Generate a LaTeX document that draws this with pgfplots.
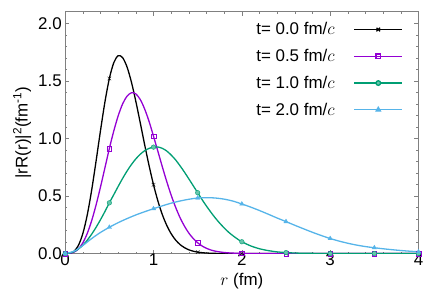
\documentclass[border=0pt]{standalone}
\usepackage{fontspec}
\setmainfont{Liberation Sans}
\usepackage{pgfplots}
\pgfplotsset{compat=1.18}
\definecolor{cpurple}{HTML}{9400D3}
\definecolor{cgreen}{HTML}{009E73}
\definecolor{cblue}{HTML}{56B4E9}
\newcommand{\fs}{\fontsize{17}{20}\selectfont}
\begin{document}
\begin{tikzpicture}
\useasboundingbox (-65.2bp,-45.5bp) rectangle (370.8bp,253.5bp);
\begin{axis}[
  at={(0,0)}, anchor=south west,
  scale only axis, width=353.3bp, height=241.8bp,
  xmin=0, xmax=4, ymin=0, ymax=2.1,
  xtick={0,1,2,3,4}, ytick={0,0.5,1,1.5,2},
  minor x tick num=4, minor y tick num=4,
  major tick length=4bp, minor tick length=2bp,
  tick align=inside,
  axis line style={gray}, every tick/.style={gray},
  /pgf/number format/assume math mode=true,
  yticklabel style={/pgf/number format/.cd, fixed, fixed zerofill, precision=1},
  xticklabel style={yshift=3bp},
  tick label style={font=\fs},
  label style={font=\fs},
  xlabel={$r$ (fm)},
  ylabel={|rR(r)|\textsuperscript{2}(fm\textsuperscript{-1})},
  legend cell align=right,
  legend plot pos=right,
  legend style={draw=none, fill=none, font=\fs, at={(0.965,0.972)}, anchor=north east, row sep=9bp,
    /tikz/every odd column/.append style={column sep=17bp}},
  legend image code/.code={\draw[#1,mark repeat=2,mark phase=2] plot coordinates {(0bp,0bp) (24bp,0bp) (48bp,0bp)};},
]
% black t=0
\addplot[black, line width=1.3bp, smooth, forget plot] coordinates {
(0,0) (0.05,0.002) (0.1,0.019) (0.15,0.071) (0.2,0.174) (0.25,0.336) (0.3,0.552) (0.35,0.805)
(0.4,1.069) (0.45,1.317) (0.5,1.52) (0.55,1.657) (0.6,1.718) (0.65,1.701) (0.7,1.620) (0.75,1.488)
(0.8,1.320) (0.85,1.134) (0.9,0.943) (0.95,0.762) (1.0,0.597) (1.05,0.455) (1.1,0.337) (1.15,0.244)
(1.2,0.171) (1.25,0.117) (1.3,0.078) (1.35,0.051) (1.4,0.032) (1.45,0.020) (1.5,0.012) (1.55,0.007)
(1.6,0.004) (1.7,0.001) (1.8,0) (2,0) (3,0) (4,0)};
\addplot[black, only marks, mark=x, mark size=2.5bp, forget plot] coordinates {
(0,0) (0.5,1.52) (1,0.597) (1.5,0.012) (2,0) (2.5,0) (3,0) (3.5,0) (4,0)};
% purple t=0.5
\addplot[cpurple, line width=1.3bp, smooth, forget plot] coordinates {
(0,0) (0.05,0.0014) (0.1,0.012) (0.15,0.040) (0.2,0.093) (0.25,0.175) (0.3,0.286) (0.35,0.423)
(0.4,0.579) (0.45,0.745) (0.5,0.912) (0.55,1.064) (0.6,1.196) (0.65,1.299) (0.7,1.366) (0.75,1.396)
(0.8,1.386) (0.85,1.337) (0.9,1.254) (0.95,1.146) (1.0,1.018) (1.05,0.886) (1.1,0.752) (1.15,0.624)
(1.2,0.506) (1.25,0.402) (1.3,0.312) (1.35,0.238) (1.4,0.177) (1.45,0.130) (1.5,0.093) (1.55,0.065)
(1.6,0.045) (1.65,0.030) (1.7,0.020) (1.8,0.0085) (1.9,0.0033) (2.0,0.001) (2.2,0) (3,0) (4,0)};
\addplot[cpurple, only marks, mark=square, mark size=2.3bp, forget plot] coordinates {
(0,0) (0.5,0.912) (1,1.018) (1.5,0.093) (2,0.001) (2.5,0) (3,0) (3.5,0) (4,0)};
% green t=1.0
\addplot[cgreen, line width=1.3bp, smooth, forget plot] coordinates {
(0,0) (0.05,0.0036) (0.1,0.016) (0.15,0.039) (0.2,0.072) (0.25,0.116) (0.3,0.168) (0.35,0.228)
(0.4,0.294) (0.45,0.365) (0.5,0.44) (0.55,0.511) (0.6,0.583) (0.65,0.652) (0.7,0.716) (0.75,0.773)
(0.8,0.822) (0.85,0.862) (0.9,0.893) (0.95,0.913) (1.0,0.924) (1.05,0.925) (1.1,0.913) (1.15,0.890)
(1.2,0.855) (1.25,0.813) (1.3,0.762) (1.35,0.707) (1.4,0.648) (1.45,0.588) (1.5,0.528) (1.55,0.468)
(1.6,0.411) (1.65,0.358) (1.7,0.308) (1.75,0.263) (1.8,0.222) (1.85,0.185) (1.9,0.154) (1.95,0.126)
(2.0,0.102) (2.1,0.066) (2.2,0.041) (2.3,0.025) (2.4,0.014) (2.5,0.008) (2.6,0.004) (2.7,0.002)
(2.8,0.001) (3.0,0) (4,0)};
\addplot[cgreen, only marks, mark=*, mark size=2.3bp, mark options={fill=cgreen!60!white}, forget plot] coordinates {
(0,0) (0.5,0.44) (1,0.924) (1.5,0.528) (2,0.102) (2.5,0.008) (3,0) (3.5,0) (4,0)};
% blue t=2.0
\addplot[cblue, line width=1.3bp, smooth, forget plot] coordinates {
(0,0) (0.1,0.02) (0.2,0.07) (0.3,0.13) (0.4,0.183) (0.5,0.228) (0.6,0.268) (0.7,0.303)
(0.8,0.335) (0.9,0.363) (1.0,0.389) (1.1,0.414) (1.2,0.437) (1.3,0.456) (1.4,0.471) (1.5,0.482)
(1.6,0.485) (1.7,0.482) (1.8,0.472) (1.9,0.455) (2.0,0.43) (2.1,0.403) (2.2,0.373) (2.3,0.341)
(2.4,0.308) (2.5,0.277) (2.6,0.245) (2.7,0.214) (2.8,0.184) (2.9,0.156) (3.0,0.13) (3.1,0.108)
(3.2,0.089) (3.3,0.073) (3.4,0.060) (3.5,0.05) (3.6,0.041) (3.7,0.033) (3.8,0.026) (3.9,0.020) (4.0,0.015)};
\addplot[cblue, only marks, mark=triangle*, mark size=2.5bp, forget plot] coordinates {
(0,0) (0.5,0.228) (1,0.389) (1.5,0.482) (2,0.43) (2.5,0.277) (3,0.13) (3.5,0.05) (4,0.015)};
\addlegendimage{black, line width=1.3bp, mark=x, mark size=2.5bp}
\addlegendentry{t= 0.0 fm/$c$}
\addlegendimage{cpurple, line width=1.3bp, mark=square, mark size=2.3bp}
\addlegendentry{t= 0.5 fm/$c$}
\addlegendimage{cgreen, line width=1.3bp, mark=*, mark size=2.3bp, mark options={fill=cgreen!60!white}}
\addlegendentry{t= 1.0 fm/$c$}
\addlegendimage{cblue, line width=1.3bp, mark=triangle*, mark size=2.5bp}
\addlegendentry{t= 2.0 fm/$c$}
\end{axis}
\end{tikzpicture}
\end{document}
